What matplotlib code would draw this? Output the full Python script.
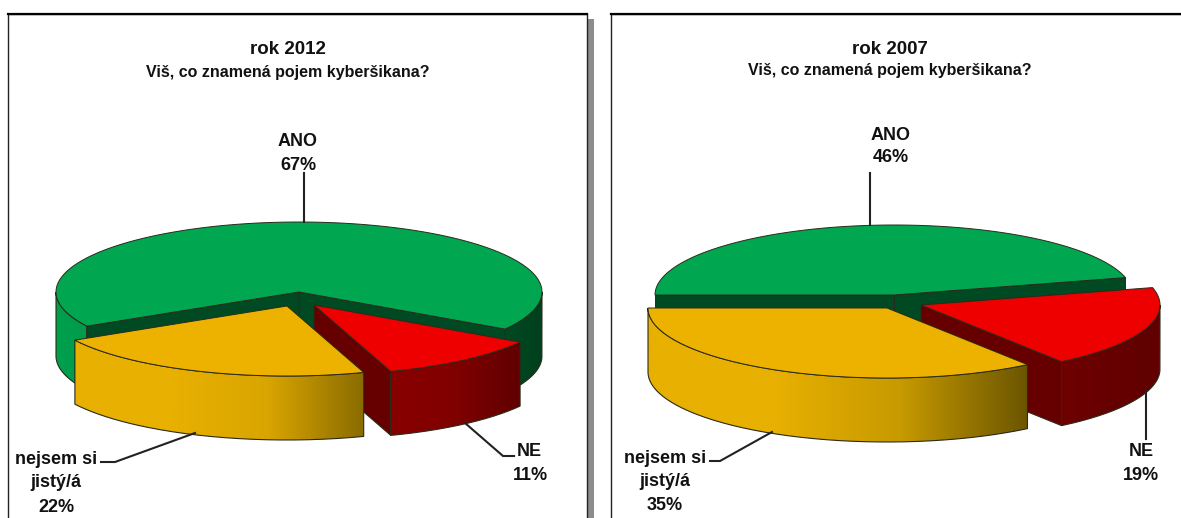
import numpy as np
import matplotlib
matplotlib.use('Agg')
import matplotlib.pyplot as plt
from matplotlib.patches import Polygon, PathPatch, Rectangle
from matplotlib.path import Path
from matplotlib.colors import LinearSegmentedColormap

# Chart data
categories = ['ANO', 'nejsem si\njistý/á', 'NE']
values_2012 = [67, 22, 11]
values_2007 = [46, 35, 19]
title_2012 = 'rok 2012'
title_2007 = 'rok 2007'
question = 'Viš, co znamená pojem kyberšikana?'

plt.rcParams['font.family'] = ['Liberation Sans', 'DejaVu Sans']
plt.rcParams['font.weight'] = 'bold'

RY, DEPTH = 70, 64
TOP_COLORS = ['#00a650', '#edb200', '#ee0000']
WALL_COLORS = ['#004a23', '#8a6c00', '#660000']
EDGE = '#2a2a1a'

fig = plt.figure(figsize=(11.81, 5.18), dpi=100)
ax = fig.add_axes([0, 0, 1, 1])
ax.set_xlim(0, 1181)
ax.set_ylim(518, 0)
ax.axis('off')


def arc(cx, cy, rx, t1, t2, n=120):
    t = np.radians(np.linspace(t1, t2, n))
    return np.column_stack([cx + rx * np.cos(t), cy - RY * np.sin(t)])


def gradient_face(points, colors, zorder):
    # Horizontal colour fade clipped to the face outline
    cmap = LinearSegmentedColormap.from_list('face', colors)
    x0, x1 = points[:, 0].min(), points[:, 0].max()
    y0, y1 = points[:, 1].min(), points[:, 1].max()
    img = ax.imshow(np.linspace(0, 1, 256).reshape(1, -1), cmap=cmap, aspect='auto',
                    extent=(x0, x1, y1, y0), zorder=zorder, interpolation='bilinear')
    outline = PathPatch(Path(np.vstack([points, points[0]])), fc='none', ec=EDGE, lw=0.8, zorder=zorder + 0.1)
    ax.add_patch(outline)
    img.set_clip_path(outline)


def outer_side(cx, cy, rx, t1, t2, left_colors, right_colors, zorder):
    # Only the front half of the rim can be seen
    for low, high in [(-180, 0), (180, 360)]:
        a, b = max(t1, low), min(t2, high)
        if b > a:
            top = arc(cx, cy, rx, a, b)
            bottom = top[::-1] + [0, DEPTH]
            # a rim piece that sits left of the centre takes the left colours
            colors = left_colors if top[:, 0].mean() < cx else right_colors
            gradient_face(np.vstack([top, bottom]), colors, zorder)


def wall(cx, cy, rx, t, color, zorder):
    corner = arc(cx, cy, rx, t, t, 1)[0]
    pts = [[cx, cy], corner, corner + [0, DEPTH], [cx, cy + DEPTH]]
    ax.add_patch(Polygon(pts, closed=True, fc=color, ec=EDGE, lw=0.7, zorder=zorder))


def top_face(cx, cy, rx, t1, t2, color, zorder):
    pts = np.vstack([[cx, cy], arc(cx, cy, rx, t1, t2)])
    ax.add_patch(Polygon(pts, closed=True, fc=color, ec=EDGE, lw=0.7, zorder=zorder))


def draw_pie(values, start, rx, centers, yellow_side, red_side):
    spans = np.array(values) / 100 * 360
    edges = start + np.concatenate([[0], np.cumsum(spans)])
    # ANO at the back, NE next, nejsem si in front
    g1, g2 = edges[0], edges[1]
    y1, y2 = edges[1], edges[2]
    r1, r2 = edges[2], edges[3]

    cx, cy = centers[0]
    outer_side(cx, cy, rx, g1, g2, ['#00a04d', '#009c4b'], ['#004a23', '#003f1d'], 2)
    wall(cx, cy, rx, g1, WALL_COLORS[0], 3)
    wall(cx, cy, rx, g2, WALL_COLORS[0], 3)
    top_face(cx, cy, rx, g1, g2, TOP_COLORS[0], 4)

    cx, cy = centers[2]
    wall(cx, cy, rx, r1, WALL_COLORS[2], 5)
    outer_side(cx, cy, rx, r1, r2, red_side, red_side, 6)
    top_face(cx, cy, rx, r1, r2, TOP_COLORS[2], 7)

    cx, cy = centers[1]
    outer_side(cx, cy, rx, y1, y2, yellow_side, yellow_side, 8)
    top_face(cx, cy, rx, y1, y2, TOP_COLORS[1], 9)


def frame(x0, x1, y0, shadow):
    ax.add_patch(Rectangle((x0, y0), x1 - x0, 530 - y0, fc='white', ec='#222222', lw=1, zorder=1))
    ax.plot([x0, x1], [y0, y0], color='black', lw=1.6, zorder=1.5)
    if shadow:
        ax.add_patch(Rectangle((x1 + 0.5, y0 + 5), 6, 530 - y0, fc='#8c8c8c', ec='none', zorder=0.5))


def leader(xs, ys):
    ax.plot(xs, ys, color='#222222', lw=1.5, zorder=10, solid_joinstyle='miter')


def label(x, y, text, size=13):
    ax.text(x, y, text, ha='center', va='center', fontsize=size, color='#111111', zorder=11, linespacing=1.5)


frame(8, 587, 14, True)
frame(611, 1190, 14, False)

# 2012 panel
draw_pie(values_2012, -32, 243,
         [(299, 292), (287, 306), (314, 305)],
         ['#e8b000', '#e8b000', '#d9a500', '#8a6c00'],
         ['#880000', '#800000', '#600000'])
label(288, 50, title_2012, 13.5)
label(288, 72, question, 11.5)
label(298, 141, categories[0])
label(298, 165, f'{values_2012[0]}%')
leader([304, 304], [173, 222])
label(56, 471, categories[1], 13)
label(56, 507, f'{values_2012[1]}%')
leader([195, 115, 101], [433, 462, 462])
label(529, 452, categories[2])
label(530, 475, f'{values_2012[2]}%')
leader([465, 503, 514], [423, 456, 456])

# 2007 panel
draw_pie(values_2007, 14.4, 239,
         [(894, 295), (887, 308), (921, 305)],
         ['#e8b000', '#e8b000', '#c79a00', '#6b5500'],
         ['#700000', '#660000', '#600000'])
label(890, 49, title_2007, 13.5)
label(890, 71, question, 11.5)
label(891, 135, categories[0])
label(891, 158, f'{values_2007[0]}%')
leader([870, 870], [173, 225])
label(665, 470, categories[1], 13)
label(665, 505, f'{values_2007[1]}%')
leader([772, 720, 710], [432, 461, 461])
label(1141, 452, categories[2])
label(1141, 476, f'{values_2007[2]}%')
leader([1146, 1146], [390, 439])

ax.set_xlim(0, 1181)
ax.set_ylim(518, 0)
fig.savefig('out.png', dpi=100)
